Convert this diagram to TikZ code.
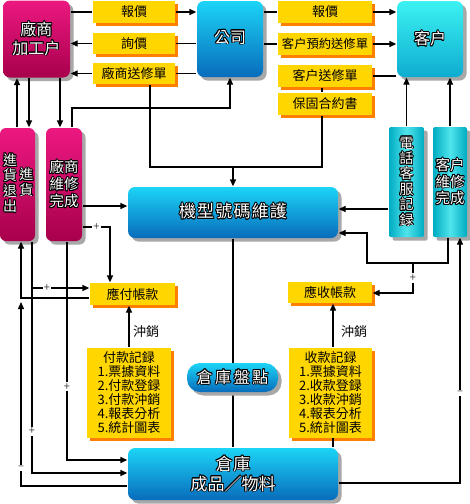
\documentclass[tikz,border=0pt]{standalone}
\usepackage{fontspec}
\setmainfont{Noto Sans CJK TC}
\usepackage{contour}
\contourlength{0.8pt}
\usetikzlibrary{shadows,arrows.meta,calc}
\definecolor{magT}{RGB}{236,24,128}
\definecolor{magB}{RGB}{168,0,76}
\definecolor{bluT}{RGB}{28,212,246}
\definecolor{bluB}{RGB}{8,108,188}
\definecolor{cyaT}{RGB}{60,242,242}
\definecolor{cyaB}{RGB}{14,172,208}
\definecolor{tealE}{RGB}{0,172,194}
\definecolor{tealM}{RGB}{80,228,236}
\definecolor{yel}{RGB}{255,214,0}
\definecolor{org}{RGB}{255,128,0}
\definecolor{shd}{RGB}{168,168,168}
\newcommand\wt[1]{\contour{black}{#1}}
\tikzset{
 box/.style={rounded corners=7pt, inner sep=0pt, text=white, align=center,
   drop shadow={shadow xshift=3.5pt, shadow yshift=-3.5pt, fill=shd, opacity=1}},
 magbox/.style={box, top color=magT, bottom color=magB},
 blubox/.style={box, top color=bluT, bottom color=bluB},
 cyabox/.style={box, top color=cyaT, bottom color=cyaB},
 tealbox/.style={box, rounded corners=1.5pt, left color=tealE, right color=tealE, middle color=tealM},
 lab/.style={fill=yel, inner sep=0pt, align=center, minimum height=22pt,
   drop shadow={shadow xshift=3pt, shadow yshift=-3pt, fill=org, opacity=1},
   font=\fontsize{13}{14}\selectfont},
 arr/.style={-{Triangle[length=7pt,width=6pt]}},
 pm/.style={fill=white, inner sep=1.2pt, font=\fontsize{11}{11}\selectfont, text=black!75},
 vtxt/.style={text=white, align=center, inner sep=0pt, font=\fontsize{14}{15.3}\selectfont},
 plain/.style={font=\fontsize{13}{14}\selectfont, inner sep=0pt},
}
\begin{document}
\begin{tikzpicture}[x=1pt,y=-1pt,line width=1.3pt]
\fill[white] (0,0) rectangle (470,504);
\useasboundingbox (0,0) rectangle (470,504);
% lanes
\coordinate (x17) at (17,0);
\coordinate (x21) at (21,0);
\coordinate (x29) at (29,0);
\coordinate (x32) at (32,0);
\coordinate (x60) at (60,0);
\coordinate (x67) at (67,0);
\coordinate (x110) at (110,0);
\coordinate (x367) at (367,0);
\coordinate (x413) at (413,0);
\coordinate (x460) at (460,0);
\coordinate (y206) at (0,206);
\coordinate (y209) at (0,209);
\coordinate (y227) at (0,227);
\coordinate (y233) at (0,233);
\coordinate (y263) at (0,263);
\coordinate (y288) at (0,288);
\coordinate (y293) at (0,293);
\coordinate (y298) at (0,298);
\coordinate (y302) at (0,302);
\coordinate (y460) at (0,460);
\coordinate (y473) at (0,473);
\coordinate (y483) at (0,483);
\coordinate (y486) at (0,486);
% big boxes
\node[magbox, minimum width=67pt, minimum height=77pt, font=\fontsize{16}{18.5}\selectfont] (cs) at (36.5,39) {\wt{廠商}\\\wt{加工户}};
\node[blubox, minimum width=66pt, minimum height=76pt, font=\fontsize{16}{18}\selectfont] (gs) at (230,39) {\raisebox{5pt}{\wt{公司}}};
\node[cyabox, minimum width=66pt, minimum height=76pt, font=\fontsize{16}{18}\selectfont] (kh) at (430,39) {\raisebox{2pt}{\wt{客户}}};
\node[magbox, rounded corners=6pt, minimum width=35pt, minimum height=113pt] (jh) at (17.5,184.5) {};
\node[vtxt] (jht1) at (10,183.5) {\wt{進}\\\wt{貨}\\\wt{退}\\\wt{出}};
\node[vtxt] (jht2) at (26.5,182.5) {\wt{進}\\\wt{貨}};
\node[magbox, rounded corners=6pt, minimum width=36pt, minimum height=113pt, font=\fontsize{14.5}{17}\selectfont] (csw) at (64,184.5) {\wt{廠商}\\\wt{維修}\\\wt{完成}};
\node[blubox, minimum width=210pt, minimum height=51pt, font=\fontsize{17}{18}\selectfont\addfontfeature{LetterSpace=7}] (jx) at (233,212.5) {\raisebox{4pt}{\wt{機型號碼維護}}};
\node[tealbox, minimum width=35pt, minimum height=110pt, font=\fontsize{14}{15.4}\selectfont] (dh) at (406.5,182) {\wt{電}\\\wt{話}\\\wt{客}\\\wt{服}\\\wt{記}\\\wt{録}};
\node[tealbox, minimum width=34pt, minimum height=110pt, font=\fontsize{14.5}{16.5}\selectfont] (kw) at (450,182) {\wt{客户}\\\wt{維修}\\\wt{完成}};
\node[blubox, minimum width=210pt, minimum height=52pt, font=\fontsize{17}{20}\selectfont] (ck) at (233,474) {{\addfontfeature{LetterSpace=5}\wt{倉庫}}\\\wt{成品／物料}};
% yellow labels
\node[lab, minimum width=82pt] (bj1) at (134,12) {報價};
\node[lab, minimum width=82pt, minimum height=21pt] (xj) at (134,43.5) {詢價};
\node[lab, minimum width=82pt, minimum height=21pt] (cssx) at (134,73.5) {廠商送修單};
\node[lab, minimum width=94pt] (bj2) at (325,12) {報價};
\node[lab, minimum width=94pt, font=\fontsize{12.3}{14}\selectfont] (yysx) at (325,44) {客户預約送修單};
\node[lab, minimum width=94pt] (khsx) at (325,76) {客户送修單};
\node[lab, minimum width=94pt] (bght) at (325,104) {保固合約書};
\node[lab, minimum width=85pt] (yingfu) at (132.5,294) {應付帳款};
\node[lab, minimum width=84pt, minimum height=21pt] (yingshou) at (330,292.5) {應收帳款};
\node[lab, minimum width=84pt, minimum height=90pt] (fukuan) at (129,392.5) {付款記録\\1.票據資料\\2.付款登録\\3.付款沖銷\\4.報表分析\\5.統計圖表};
\node[lab, minimum width=83pt, minimum height=90pt] (shoukuan) at (330.5,392.5) {收款記録\\1.票據資料\\2.收款登録\\3.收款沖銷\\4.報表分析\\5.統計圖表};
\node[plain] (cx1) at (146,332) {沖銷};
\node[plain] (cx2) at (354,332) {沖銷};
% top connectors
\draw (cs.east |- bj1) -- (bj1.west);
\draw[arr] (bj1.east) -- (gs.west |- bj1);
\draw (gs.west |- xj) -- (xj.east);
\draw[arr] (xj.west) -- (cs.east |- xj);
\draw (gs.west |- cssx) -- (cssx.east);
\draw[arr] (cssx.west) -- (cs.east |- cssx);
\draw (gs.east |- bj2) -- (bj2.west);
\draw[arr] (bj2.east) -- (kh.west |- bj2);
\draw (gs.east |- yysx) -- (yysx.west);
\draw[arr] (yysx.east) -- (kh.west |- yysx);
\draw (kh.west |- khsx) -- (khsx.east);
\draw ([xshift=-3pt]khsx.south) -- ([xshift=-3pt]bght.north);
\coordinate (j1) at (233,167);
\draw ([xshift=16pt]cssx.south) |- ([xshift=-3pt]bght.south |- j1) -- ([xshift=-3pt]bght.south);
\draw[arr] (jx.north |- j1) -- (jx.north);
\coordinate (g1) at (230,108);
\draw[arr] ([xshift=8pt]csw.north) |- (g1) -- (gs.south);
% left column
\draw[arr] (cs.south -| x29) -- (jh.north -| x29);
\draw[arr] (jh.north -| x17) -- (cs.south -| x17);
\draw[arr] (cs.south -| x60) -- (csw.north -| x60);
\draw[arr] (csw.east |- y206) -- (jx.west |- y206);
\draw[arr] (csw.east |- y227) -- node[pm] (pe) {+} (x110 |- y227) -- (yingfu.north -| x110);
\draw[arr] (yingfu.west |- y298) -| (jh.south -| x21);
\draw[arr] (ck.west |- y486) -- (x21 |- y486) -- node[pm, pos=0.1] (mb) {–} (x21 |- y302);
\draw[arr] (jh.south -| x32) -- node[pm, pos=0.82] (pc) {+} (x32 |- y473) -- (ck.west |- y473);
\draw[arr] (x32 |- y288) -- node[pm, pos=0.26] (pc2) {+} (yingfu.west |- y288);
\draw[arr] (csw.south -| x67) -- node[pm, pos=0.665] (pd) {+} (x67 |- y460) -- (ck.west |- y460);
% right column
\draw[arr] (dh.north) -- (dh.north |- kh.south);
\draw[arr] (kw.north) -- (kw.north |- kh.south);
\draw[arr] (dh.west |- y209) -- (jx.east |- y209);
\draw[arr] ([xshift=-2pt]kw.south) |- (x367 |- y263) -- (x367 |- y233) -- (jx.east |- y233);
\draw[arr] (x413 |- y263) -- node[pm] (pn) {+} (x413 |- y293) -- (yingshou.east |- y293);
\draw[arr] (ck.east |- y483) -- (x460 |- y483) -- node[pm, pos=0.366] (mo) {–} (x460 |- kw.south);
% accounts
\draw[arr] (fukuan.north) -- (fukuan.north |- yingfu.south);
\draw[arr] ([xshift=2.5pt]shoukuan.north) -- ([xshift=2.5pt]shoukuan.north |- yingshou.south);
\draw ([xshift=2.5pt]shoukuan.south) -- ([xshift=2.5pt]shoukuan.south |- ck.north);
\draw (jx.south) -- (ck.north);
\node[blubox, rounded corners=13pt, minimum width=91pt, minimum height=29pt, font=\fontsize{16}{18}\selectfont\addfontfeature{LetterSpace=16}] (pd2) at (232.5,377.5) {\wt{倉庫盤點}};
\end{tikzpicture}
\end{document}
